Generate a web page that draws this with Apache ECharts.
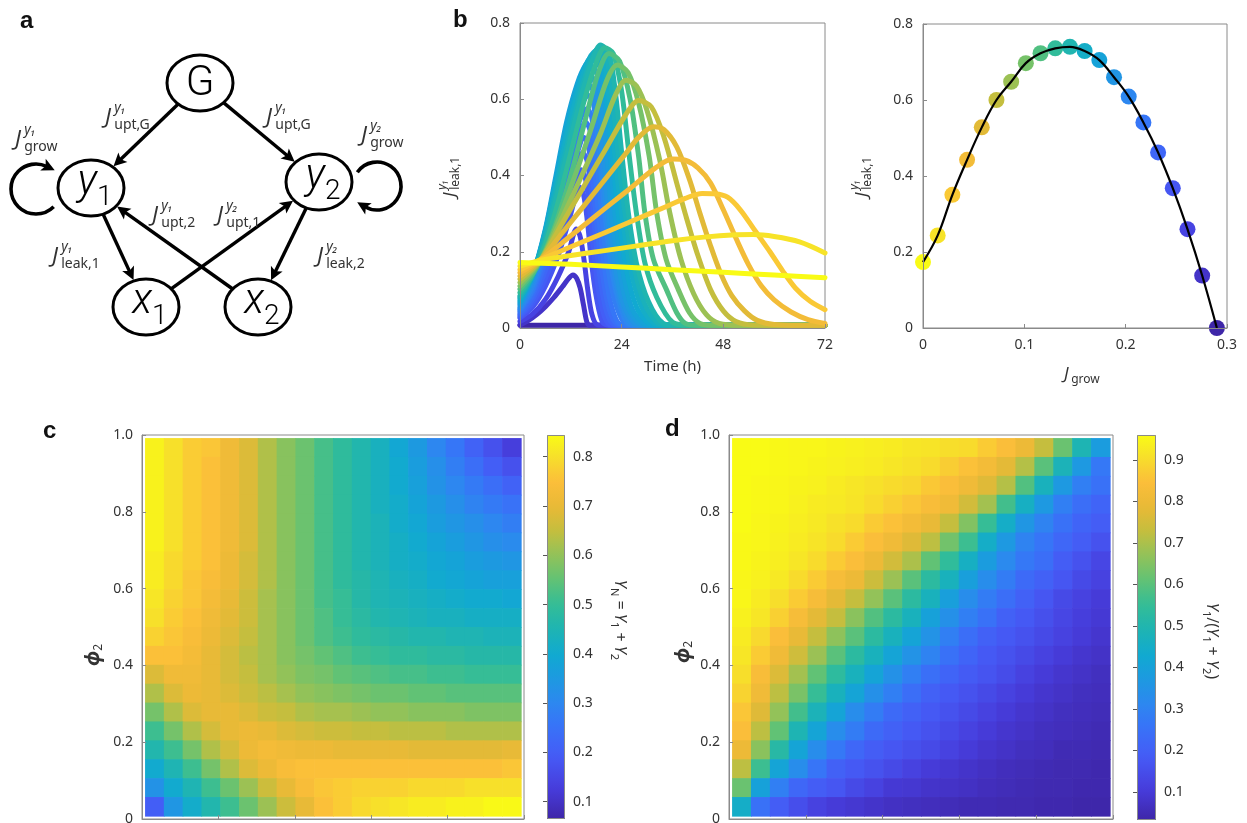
<!DOCTYPE html>
<html><head><meta charset="utf-8">
<script src="https://cdn.jsdelivr.net/npm/echarts@6/dist/echarts.min.js"></script>
<style>html,body{margin:0;padding:0;background:#fff}#c{width:1247px;height:823px}</style>
</head><body><div id="c"></div><script>
// ---------------- DATA ----------------
// panel b: growth parameter of each curve / point, and peak leak flux (right plot)
const growRate = [0,0.0145,0.029,0.0435,0.058,0.0725,0.087,0.1015,0.116,0.1305,0.145,0.1595,0.174,0.1885,0.203,0.2175,0.232,0.2465,0.261,0.2755,0.29];
const leakMax  = [0.1735,0.2436,0.3505,0.4425,0.528,0.600,0.648,0.697,0.723,0.736,0.740,0.729,0.705,0.660,0.609,0.541,0.462,0.368,0.260,0.138,0];
const timeTicks = [0,24,48,72];
// panel b left: leak flux over time (h) for each growth parameter (index matches growRate)
const leakCurves = [
[[0,.172],[12,.167],[24,.160],[36,.153],[48,.146],[60,.139],[72,.132]],
[[0,.162],[5,.178],[12,.19],[20,.203],[28,.216],[36,.229],[44,.239],[50,.244],[55,.245],[60,.24],[66,.226],[72,.197]],
[[0,.153],[5,.18],[12,.213],[20,.25],[28,.288],[34,.316],[39,.34],[43,.353],[46,.352],[49,.343],[52,.31],[55.5,.255],[59,.2],[62,.15],[65,.105],[68.5,.07],[72,.048]],
[[0,.145],[5,.18],[12,.242],[20,.313],[26,.366],[32,.42],[36,.443],[39,.44],[42,.42],[45,.38],[48,.31],[51,.235],[54,.165],[57,.11],[60,.074],[64,.042],[68,.022],[72,.012]],
[[0,.136],[5,.18],[10,.25],[15,.319],[20,.389],[25,.458],[28,.5],[31.5,.528],[34,.52],[37,.475],[40,.39],[42.5,.3],[45,.215],[47.5,.14],[50,.085],[53,.045],[56,.02],[60,.009],[66,.007],[72,.007]],
[[0,.128],[5,.18],[10,.275],[15,.37],[20,.465],[25,.56],[28,.597],[31,.58],[34,.5],[37,.38],[39,.3],[42,.19],[45,.1],[48,.045],[51,.017],[55,.008],[72,.007]],
[[0,.119],[5,.18],[10,.29],[15,.41],[19,.51],[22.5,.61],[25,.65],[27.5,.635],[30,.57],[33,.44],[35.4,.3],[38,.18],[41,.09],[44,.035],[47,.012],[52,.007],[72,.007]],
[[0,.11],[5,.18],[9,.28],[13,.4],[17,.53],[20.5,.65],[23,.69],[25.5,.67],[28,.59],[30.5,.45],[32.3,.3],[34.5,.18],[37.4,.1],[40,.04],[42.5,.012],[46,.007],[72,.007]],
[[0,.102],[4,.16],[8,.26],[12,.4],[15.5,.55],[18.5,.67],[21,.72],[23.5,.70],[26,.6],[28,.45],[29.5,.3],[31.5,.18],[34.6,.1],[37,.04],[39,.012],[42,.007],[72,.007]],
[[0,.093],[3,.14],[6,.22],[9,.33],[12,.46],[15,.59],[17.5,.68],[20,.735],[22,.72],[24,.62],[25.8,.45],[27.5,.3],[29.5,.17],[32.3,.08],[36,.015],[40,.007],[72,.007]],
[[0,.085],[3,.14],[6,.23],[9,.36],[12,.5],[15,.63],[17,.7],[19,.742],[21,.72],[22.5,.62],[24,.46],[25.6,.3],[27.5,.17],[30.3,.07],[33.8,.012],[37,.007],[72,.007]],
[[0,.077],[3,.14],[6,.25],[9,.4],[12,.55],[14.5,.65],[16.5,.71],[18.3,.73],[19.8,.70],[21.2,.58],[22.5,.44],[24,.3],[26,.16],[28.5,.06],[31.5,.012],[34,.007],[72,.007]],
[[0,.068],[3,.14],[6,.26],[8.5,.4],[11,.54],[13.5,.64],[15.5,.69],[17.3,.705],[19,.68],[20.3,.57],[21.4,.44],[22.4,.3],[24.3,.15],[26.5,.05],[29.5,.01],[32,.007],[72,.007]],
[[0,.06],[3,.13],[6,.25],[8.5,.38],[11,.51],[13.5,.6],[15.5,.65],[16.8,.66],[17.8,.64],[19,.54],[20,.42],[20.9,.3],[22.5,.16],[24.5,.06],[27.5,.01],[30,.007],[72,.007]],
[[0,.051],[3,.11],[6,.22],[8.5,.34],[11,.46],[13.5,.56],[16.2,.61],[17.3,.59],[18.3,.5],[19.3,.38],[20,.3],[21.5,.16],[23.5,.06],[25.6,.01],[28,.007],[72,.007]],
[[0,.043],[3,.095],[6,.19],[9,.31],[11.5,.41],[13.5,.49],[15.5,.54],[16.5,.52],[17.5,.43],[18.5,.3],[19.8,.17],[21.3,.07],[23.5,.01],[26,.007],[72,.007]],
[[0,.034],[3,.075],[6,.15],[9,.25],[11.5,.35],[13.3,.42],[14.8,.46],[15.8,.44],[16.8,.36],[17.8,.24],[19,.12],[20.5,.04],[22,.01],[24,.007],[72,.007]],
[[0,.026],[3,.055],[6,.11],[9,.19],[11.5,.28],[13,.34],[14,.37],[15,.35],[16,.27],[17,.16],[18.2,.07],[19.5,.015],[21,.007],[72,.007]],
[[0,.017],[3,.037],[6,.075],[9,.135],[11.5,.2],[13.3,.26],[14.2,.24],[15.1,.18],[16,.1],[17,.035],[18.3,.008],[20,.007],[72,.007]],
[[0,.008],[2,.02],[4,.036],[6,.056],[8,.08],[10,.108],[11.5,.13],[12.5,.139],[13.4,.13],[14.2,.105],[15,.06],[15.8,.015],[16.5,.007],[72,.007]],
[[0,.007],[72,.007]]
];
// panel b left: further curves read inside the dense blue-cyan fan
const fanGrow = [0.15225,0.16675,0.18125,0.19575,0.21025,0.22475,0.23925];
const fanCurves = [
[[0,.081],[3,.14],[6,.24],[9,.38],[12,.52],[14.8,.64],[16.8,.705],[18.6,.736],[20.4,.71],[21.8,.6],[23.2,.45],[24.8,.3],[26.8,.165],[29.4,.065],[32.6,.012],[35,.007],[72,.007]],
[[0,.072],[3,.14],[6,.255],[8.8,.4],[11.5,.545],[14,.645],[16,.7],[17.8,.718],[19.4,.69],[20.7,.575],[21.9,.44],[23.2,.3],[25.1,.155],[27.5,.055],[30.5,.011],[33,.007],[72,.007]],
[[0,.064],[3,.135],[6,.255],[8.5,.39],[11,.525],[13.5,.62],[15.5,.67],[17,.683],[18.4,.66],[19.6,.555],[20.7,.43],[21.6,.3],[23.4,.155],[25.5,.055],[28.5,.01],[31,.007],[72,.007]],
[[0,.055],[3,.12],[6,.235],[8.5,.36],[11,.485],[13.5,.58],[15.5,.625],[16.5,.635],[17.5,.615],[18.6,.52],[19.6,.4],[20.4,.3],[22,.16],[24,.06],[26.5,.01],[29,.007],[72,.007]],
[[0,.047],[3,.1],[6,.205],[8.8,.325],[11.2,.435],[13.5,.525],[15.8,.575],[16.9,.555],[17.9,.465],[18.9,.34],[19.9,.23],[21.4,.115],[23.5,.035],[25.5,.007],[72,.007]],
[[0,.038],[3,.085],[6,.17],[9,.28],[11.5,.38],[13.4,.455],[15.1,.50],[16.1,.48],[17.1,.395],[18.1,.27],[19.4,.145],[20.9,.055],[22.8,.01],[25,.007],[72,.007]],
[[0,.03],[3,.065],[6,.13],[9,.22],[11.5,.315],[13.2,.38],[14.4,.415],[15.4,.395],[16.4,.315],[17.4,.2],[18.6,.095],[20,.028],[21.5,.007],[72,.007]]
];
// panel c: Y_N over (phi1 = x, phi2 = y); rows top (phi2 ~ 1) to bottom (phi2 ~ 0)
const heatC = [
[.83,.80,.77,.76,.72,.68,.63,.59,.56,.52,.49,.46,.43,.39,.35,.30,.26,.21,.17,.13],
[.83,.80,.77,.75,.72,.68,.63,.59,.56,.52,.49,.46,.43,.40,.36,.32,.28,.24,.20,.17],
[.83,.80,.77,.75,.72,.68,.63,.59,.56,.52,.49,.46,.43,.40,.37,.33,.30,.27,.24,.21],
[.83,.80,.77,.75,.72,.68,.63,.59,.56,.52,.49,.46,.43,.41,.38,.35,.32,.29,.27,.25],
[.83,.80,.77,.75,.72,.68,.63,.59,.56,.52,.49,.46,.44,.41,.39,.36,.34,.32,.30,.28],
[.83,.80,.77,.75,.72,.68,.63,.59,.56,.52,.49,.46,.44,.42,.40,.38,.36,.34,.32,.31],
[.82,.79,.77,.75,.71,.67,.63,.59,.56,.52,.49,.46,.44,.42,.41,.39,.38,.36,.35,.34],
[.82,.79,.76,.74,.71,.67,.63,.59,.56,.52,.49,.47,.45,.43,.42,.40,.39,.38,.37,.37],
[.81,.78,.76,.73,.70,.66,.62,.59,.56,.52,.50,.47,.45,.44,.43,.42,.41,.40,.40,.39],
[.80,.77,.75,.72,.69,.66,.62,.59,.56,.53,.50,.48,.46,.45,.44,.43,.43,.42,.42,.42],
[.78,.76,.74,.71,.68,.65,.62,.59,.56,.53,.51,.49,.48,.47,.46,.46,.45,.45,.44,.44],
[.75,.75,.73,.70,.67,.64,.62,.59,.57,.55,.53,.51,.50,.49,.49,.48,.48,.47,.47,.47],
[.68,.72,.72,.70,.67,.65,.62,.60,.58,.57,.55,.54,.53,.52,.52,.51,.51,.50,.50,.50],
[.63,.68,.71,.70,.68,.66,.64,.62,.60,.59,.58,.57,.56,.56,.55,.55,.54,.54,.54,.54],
[.57,.63,.68,.70,.70,.68,.66,.65,.63,.62,.62,.61,.60,.60,.59,.59,.59,.58,.58,.58],
[.51,.57,.63,.67,.70,.71,.70,.68,.67,.66,.66,.65,.65,.64,.64,.64,.63,.63,.63,.63],
[.46,.51,.57,.63,.67,.71,.73,.72,.71,.71,.70,.70,.70,.70,.69,.69,.69,.69,.69,.70],
[.40,.45,.51,.57,.63,.68,.71,.74,.75,.75,.75,.75,.75,.75,.75,.75,.75,.75,.75,.76],
[.33,.40,.45,.51,.56,.61,.66,.70,.74,.76,.77,.78,.78,.78,.79,.79,.79,.80,.80,.80],
[.20,.34,.41,.46,.51,.56,.61,.66,.70,.75,.77,.79,.80,.81,.82,.82,.83,.83,.84,.84]
];
// panel d: Y1/(Y1+Y2); rows top to bottom
const heatD = [
[.96,.96,.955,.95,.95,.945,.94,.935,.93,.92,.915,.905,.90,.87,.84,.80,.73,.62,.49,.38],
[.96,.96,.955,.95,.945,.94,.935,.93,.92,.91,.90,.875,.85,.82,.78,.71,.60,.48,.37,.27],
[.96,.955,.95,.945,.94,.93,.92,.91,.90,.89,.865,.84,.81,.77,.71,.59,.47,.37,.29,.25],
[.96,.955,.95,.94,.93,.925,.915,.90,.88,.86,.835,.81,.75,.69,.57,.46,.37,.29,.24,.21],
[.96,.95,.945,.935,.925,.91,.90,.87,.85,.82,.79,.73,.65,.55,.45,.36,.30,.25,.21,.19],
[.955,.95,.94,.93,.915,.90,.87,.84,.81,.77,.72,.63,.56,.45,.37,.30,.26,.22,.19,.16],
[.955,.945,.935,.92,.90,.87,.84,.80,.75,.70,.61,.54,.46,.38,.32,.27,.24,.19,.16,.13],
[.95,.94,.925,.90,.87,.83,.80,.74,.68,.60,.53,.47,.39,.33,.28,.23,.20,.17,.14,.12],
[.95,.93,.905,.87,.83,.78,.73,.67,.60,.53,.47,.39,.33,.28,.24,.20,.17,.14,.12,.10],
[.94,.92,.88,.83,.78,.73,.66,.59,.53,.47,.40,.34,.29,.25,.20,.18,.155,.13,.11,.095],
[.93,.895,.84,.79,.73,.665,.60,.53,.47,.41,.35,.29,.24,.20,.18,.16,.14,.12,.10,.085],
[.92,.87,.81,.745,.68,.60,.53,.47,.41,.35,.30,.25,.21,.18,.16,.14,.12,.10,.085,.075],
[.905,.835,.765,.69,.61,.535,.47,.41,.345,.29,.245,.21,.185,.165,.145,.12,.10,.085,.075,.065],
[.885,.81,.72,.64,.55,.47,.41,.34,.29,.24,.20,.18,.16,.14,.12,.10,.085,.075,.065,.06],
[.86,.77,.67,.57,.48,.41,.33,.28,.23,.20,.18,.16,.14,.12,.10,.085,.075,.065,.06,.055],
[.84,.72,.61,.49,.41,.33,.28,.23,.20,.18,.16,.14,.12,.10,.085,.075,.065,.06,.055,.05],
[.80,.66,.52,.41,.33,.27,.22,.19,.17,.155,.14,.12,.10,.085,.075,.065,.06,.05,.05,.045],
[.72,.56,.41,.33,.26,.20,.18,.16,.14,.12,.10,.09,.08,.07,.06,.055,.05,.045,.045,.04],
[.62,.40,.29,.22,.19,.17,.14,.12,.095,.09,.08,.075,.07,.06,.055,.05,.045,.045,.04,.04],
[.45,.25,.19,.15,.12,.10,.09,.08,.07,.065,.06,.055,.05,.05,.045,.045,.04,.04,.035,.035]
];
const colorRangeC = [0.065, 0.844];
const colorRangeD = [0.032, 0.96];
const cbarTicksC = [0.1,0.2,0.3,0.4,0.5,0.6,0.7,0.8];
const cbarTicksD = [0.1,0.2,0.3,0.4,0.5,0.6,0.7,0.8,0.9];
// panel a: schematic
const nodePos = {G:[200,83], y1:[91,188], y2:[319,182], x1:[146,307], x2:[258,307]};
const nodeRadius = [33,28];
const edges = [['G','y1'],['G','y2'],['y1','x1'],['y2','x2'],['x1','y2'],['x2','y1']];
const loops = [{c:[36,189], r:25, a0:45, a1:295}, {c:[377,186], r:24, a0:215, a1:480}];
const edgeLabels = [
  [105,118,'y₁','upt,G'],[266,118,'y₁','upt,G'],[15,140,'y₁','grow'],[361,136,'y₂','grow'],
  [152,216,'y₁','upt,2'],[217,216,'y₂','upt,1'],[52,257,'y₁','leak,1'],[317,257,'y₂','leak,2']
];

// ---------------- STYLE ----------------
const FONT = '"Noto Sans","DejaVu Sans",sans-serif';
const TXT = '#333', AX = '#8a8a8a';
const parulaStops = [
 [0.00,[62,38,168]],[0.08,[71,60,220]],[0.16,[70,90,245]],[0.24,[56,114,248]],[0.30,[45,135,240]],
 [0.36,[30,152,226]],[0.43,[16,170,208]],[0.50,[32,181,176]],[0.56,[52,189,150]],[0.62,[95,194,118]],
 [0.69,[148,194,88]],[0.75,[196,190,62]],[0.81,[232,185,54]],[0.88,[252,190,58]],[0.94,[246,222,44]],[1.00,[249,251,21]]
];
function parula(t){
  t = Math.max(0, Math.min(1, t));
  for (let i = 1; i < parulaStops.length; i++) {
    if (t <= parulaStops[i][0]) {
      const [t0,c0] = parulaStops[i-1], [t1,c1] = parulaStops[i];
      const f = (t - t0) / (t1 - t0);
      return 'rgb(' + c0.map((v,j) => Math.round(v + (c1[j]-v)*f)).join(',') + ')';
    }
  }
  return 'rgb(249,251,21)';
}
const palette = Array.from({length:41}, (_,i) => parula(i/40));
const gMax = growRate[growRate.length-1];
const growColor = g => parula(1 - g/gMax);

// ---------------- HELPERS ----------------
function cellsOf(rows){
  const R = rows.length, C = rows[0].length, inset = 0.008, step = (1-2*inset)/C;
  const out = [];
  rows.forEach((row,j) => row.forEach((v,i) => out.push([inset+(i+0.5)*step, inset+(R-1-j+0.5)*step, v])));
  return {data: out, step};
}
const cellsC = cellsOf(heatC), cellsD = cellsOf(heatD);
function heatRender(step){
  return function(params, api){
    const c = api.coord([api.value(0), api.value(1)]);
    const s = api.size([step, step]);
    return {type:'rect', shape:{x:c[0]-s[0]/2, y:c[1]-s[1]/2, width:s[0]+0.7, height:s[1]+0.7},
            style:{fill: api.visual('color')}};
  };
}
function barRender(range){
  return function(params, api){
    const p0 = api.coord([0, range[0]]), p1 = api.coord([1, range[1]]);
    const grad = new echarts.graphic.LinearGradient(0,1,0,0, palette.map((c,i)=>({offset:i/(palette.length-1), color:c})));
    return {type:'group', children:[
      {type:'rect', shape:{x:p0[0], y:p1[1], width:p1[0]-p0[0], height:p0[1]-p1[1]}, style:{fill:grad}},
      {type:'rect', shape:{x:p0[0]+0.5, y:p1[1]+0.5, width:p1[0]-p0[0]-1, height:p0[1]-p1[1]-1}, style:{fill:'none', stroke:AX, lineWidth:1}}
    ]};
  };
}
function tstyle(o){
  const s = Object.assign({fill:TXT, fontFamily:FONT}, o);
  if (s.align) s.textAlign = s.align;
  if (s.verticalAlign) s.textVerticalAlign = s.verticalAlign;
  return s;
}
function jParts(sup, sub, fs, ss){
  const kids = [{type:'text', x:0, y:0, style:tstyle({text:'J', fontSize:fs, fontStyle:'italic', align:'left', verticalAlign:'middle'})}];
  if (sup) kids.push({type:'text', x:fs*0.42, y:-fs*0.44, style:tstyle({text:sup, fontSize:ss, fontStyle:'italic', align:'left', verticalAlign:'middle'})});
  if (sub) kids.push({type:'text', x:fs*0.42, y:fs*0.30, style:tstyle({text:sub, fontSize:ss, align:'left', verticalAlign:'middle'})});
  return kids;
}
function diagramRender(params, api){
  const kids = [];
  const P = p => api.coord(p);
  const [RX, RY] = nodeRadius;
  const bound = (c, d, extra) => { const s = 1/Math.sqrt((d[0]/RX)**2 + (d[1]/RY)**2); return [c[0]+d[0]*(s+extra), c[1]+d[1]*(s+extra)]; };
  const head = (tip, d) => { const L=13, W=6.5, n=[-d[1], d[0]]; const b=[tip[0]-d[0]*L, tip[1]-d[1]*L];
    return {type:'polygon', shape:{points:[tip,[b[0]+n[0]*W,b[1]+n[1]*W],[b[0]+d[0]*3,b[1]+d[1]*3],[b[0]-n[0]*W,b[1]-n[1]*W]]}, style:{fill:'#000'}}; };
  edges.forEach(([a,b]) => {
    const A = nodePos[a], B = nodePos[b];
    let d = [B[0]-A[0], B[1]-A[1]]; const len = Math.hypot(d[0], d[1]); d = [d[0]/len, d[1]/len];
    const ps = P(bound(A, d, 0)), pe = P(bound(B, [-d[0],-d[1]], 1));
    kids.push({type:'line', shape:{x1:ps[0], y1:ps[1], x2:pe[0]-d[0]*9, y2:pe[1]-d[1]*9}, style:{stroke:'#000', lineWidth:3.4}});
    kids.push(head(pe, d));
  });
  loops.forEach(lp => {
    const c = P(lp.c), r = api.size([lp.r, 0])[0];
    const a0 = lp.a0*Math.PI/180, a1 = lp.a1*Math.PI/180;
    kids.push({type:'arc', shape:{cx:c[0], cy:c[1], r, startAngle:a0, endAngle:a1, clockwise:true}, style:{stroke:'#000', lineWidth:3.6, fill:'none'}});
    const e = [c[0]+r*Math.cos(a1), c[1]+r*Math.sin(a1)], t = [-Math.sin(a1), Math.cos(a1)];
    kids.push(head([e[0]+t[0]*9, e[1]+t[1]*9], t));
  });
  Object.keys(nodePos).forEach(k => {
    const c = P(nodePos[k]);
    kids.push({type:'ellipse', shape:{cx:c[0], cy:c[1], rx:RX, ry:RY}, style:{fill:'#fff', stroke:'#000', lineWidth:3}});
    if (k === 'G') {
      kids.push({type:'text', x:c[0], y:c[1]+1, style:tstyle({text:'G', fontSize:42, fontWeight:300, fontFamily:'Roboto', fill:'#000', align:'center', verticalAlign:'middle'})});
    } else {
      kids.push({type:'text', x:c[0]+6, y:c[1]-5, style:tstyle({text:k[0], fontSize:42, fontStyle:'italic', fontWeight:300, fontFamily:'Roboto', fill:'#000', align:'right', verticalAlign:'middle'})});
      kids.push({type:'text', x:c[0]+6, y:c[1]+10, style:tstyle({text:k[1], fontSize:28, fontWeight:300, fontFamily:'Roboto', fill:'#000', align:'left', verticalAlign:'middle'})});
    }
  });
  edgeLabels.forEach(([x,y,sup,sub]) => {
    const c = P([x,y]);
    kids.push({type:'group', x:c[0], y:c[1], children: jParts(sup, sub, 22, 14)});
  });
  return {type:'group', children:kids};
}

// ---------------- AXES ----------------
const fmt = v => v === 0 ? '0' : (Math.round(v*10)/10).toFixed(1);
function vAxis(grid, min, max, interval, extra){
  return Object.assign({gridIndex:grid, type:'value', min, max, interval,
    axisLine:{show:true, onZero:false, lineStyle:{color:AX}},
    axisTick:{show:true, inside:true, length:4, lineStyle:{color:AX}},
    axisLabel:{color:TXT, fontSize:14, fontFamily:FONT, margin:10, formatter:fmt},
    splitLine:{show:false}, z:5}, extra||{});
}
const hidden = (g, min, max, inv) => ({gridIndex:g, type:'value', min, max, show:false, inverse:!!inv});
const gridBox = (left, top, width, height, show) => ({left, top, width, height, show:!!show, borderColor:AX, borderWidth:1, backgroundColor:'transparent', outerBoundsMode:'none', containLabel:false});

// ---------------- SERIES ----------------
const series = [];
series.push({type:'custom', xAxisIndex:0, yAxisIndex:0, data:[[0,0]], renderItem:diagramRender, silent:true, clip:false});
const allCurves = leakCurves.map((d,k)=>({g:growRate[k], d})).concat(fanCurves.map((d,k)=>({g:fanGrow[k], d})));
allCurves.sort((a,b)=>b.g-a.g);
allCurves.forEach(c => {
  series.push({type:'line', xAxisIndex:1, yAxisIndex:1, data:c.d, smooth:0.3, showSymbol:false, silent:true,
    lineStyle:{width:5, color:growColor(c.g), cap:'round', join:'round'}});
});
series.push({type:'line', xAxisIndex:2, yAxisIndex:2, data:growRate.map((g,i)=>[g, leakMax[i]]), smooth:0.4, showSymbol:false, silent:true, lineStyle:{width:2.2, color:'#000'}, clip:false});
series.push({type:'scatter', xAxisIndex:2, yAxisIndex:2, data:growRate.map((g,i)=>[g, leakMax[i]]), symbolSize:16, silent:true, clip:false,
  itemStyle:{color: p => growColor(growRate[p.dataIndex]), opacity:1}});
const idxC = series.length;
series.push({type:'custom', xAxisIndex:3, yAxisIndex:3, data:cellsC.data, renderItem:heatRender(cellsC.step), silent:true});
series.push({type:'custom', xAxisIndex:4, yAxisIndex:4, data:[[0.5, colorRangeC[0]]], renderItem:barRender(colorRangeC), silent:true});
const idxD = series.length;
series.push({type:'custom', xAxisIndex:5, yAxisIndex:5, data:cellsD.data, renderItem:heatRender(cellsD.step), silent:true});
series.push({type:'custom', xAxisIndex:6, yAxisIndex:6, data:[[0.5, colorRangeD[0]]], renderItem:barRender(colorRangeD), silent:true});

function barAxis(g, range, ticks){
  return {gridIndex:g, type:'value', min:range[0], max:range[1], position:'right', z:6,
    axisLine:{show:false}, splitLine:{show:false},
    axisTick:{show:true, inside:true, length:4, lineStyle:{color:'#555'}, customValues:ticks},
    axisLabel:{color:TXT, fontSize:14, fontFamily:FONT, margin:8, customValues:ticks, formatter:v=>v.toFixed(1)}};
}

// ---------------- GRAPHIC TEXT ----------------
const panelLetter = (t, x, y) => ({type:'text', x, y, style:tstyle({text:t, fontSize:24, fontWeight:'bold', fontFamily:'"Liberation Sans",Arial,sans-serif', fill:'#111', align:'left', verticalAlign:'middle'})});
const richY = {v:{fontSize:16, fontStyle:'italic', fontFamily:FONT, lineHeight:22, fill:TXT}, s:{fontSize:11, fontFamily:FONT, lineHeight:11, verticalAlign:'bottom', fill:TXT}, t:{fontSize:16, fontFamily:FONT, lineHeight:22, fill:TXT}};
const phiLabel = (x, y) => ({type:'text', x, y, rotation:Math.PI/2, style:tstyle({text:'{p|ϕ}{s|2}', align:'center', verticalAlign:'middle',
  rich:{p:{fontSize:20, fontStyle:'italic', fontWeight:'bold', fontFamily:FONT, lineHeight:24, fill:TXT}, s:{fontSize:12, fontFamily:FONT, lineHeight:12, verticalAlign:'bottom', fill:TXT}}})});
const graphics = [
  panelLetter('a', 20, 21), panelLetter('b', 453, 20), panelLetter('c', 43, 431), panelLetter('d', 665, 429),
  {type:'group', x:450, y:197, rotation:Math.PI/2, children:jParts('y₁','leak,1',17,12)},
  {type:'group', x:862, y:197, rotation:Math.PI/2, children:jParts('y₁','leak,1',17,12)},
  {type:'group', x:1064, y:374, children:jParts(null,'grow',17,12)},
  phiLabel(93, 655), phiLabel(683, 652),
  {type:'text', x:620, y:620, rotation:-Math.PI/2, style:tstyle({text:'{v|Y}{s|N}{t| = }{v|Y}{s|1}{t| + }{v|Y}{s|2}', align:'center', verticalAlign:'middle', rich:richY})},
  {type:'text', x:1212, y:641, rotation:-Math.PI/2, style:tstyle({text:'{v|Y}{s|1}{t|/(}{v|Y}{s|1}{t| + }{v|Y}{s|2}{t|)}', align:'center', verticalAlign:'middle', rich:richY})}
];

const option = {
  animation:false,
  backgroundColor:'#fff',
  grid:[gridBox(0,0,420,340,false), gridBox(520,23,305,305,true), gridBox(923,24,304,304,true),
        gridBox(142,435,382,384,true), gridBox(547,435,18,384,false), gridBox(729,435,384,384,true), gridBox(1137,435,19,385,false)],
  xAxis:[hidden(0,0,420),
    vAxis(1,timeTicks[0],timeTicks[timeTicks.length-1],timeTicks[1]-timeTicks[0],{name:'Time (h)', nameLocation:'middle', nameGap:31, nameTextStyle:{color:TXT, fontSize:15, fontFamily:FONT},
      axisLabel:{color:TXT, fontSize:14, fontFamily:FONT, margin:10, formatter:v=>String(Math.round(v))}}),
    vAxis(2,0,0.3,0.1), vAxis(3,0,1,0.2), hidden(4,0,1), vAxis(5,0,1,0.2), hidden(6,0,1)],
  yAxis:[hidden(0,0,340,true), vAxis(1,0,0.8,0.2), vAxis(2,0,0.8,0.2), vAxis(3,0,1,0.2,{axisLabel:{color:TXT,fontSize:14,fontFamily:FONT,margin:9,formatter:fmt}}),
    barAxis(4,colorRangeC,cbarTicksC), vAxis(5,0,1,0.2,{axisLabel:{color:TXT,fontSize:14,fontFamily:FONT,margin:9,formatter:fmt}}), barAxis(6,colorRangeD,cbarTicksD)],
  visualMap:[
    {type:'continuous', show:false, seriesIndex:idxC, dimension:2, min:colorRangeC[0], max:colorRangeC[1], inRange:{color:palette}},
    {type:'continuous', show:false, seriesIndex:idxD, dimension:2, min:colorRangeD[0], max:colorRangeD[1], inRange:{color:palette}}
  ],
  graphic:{elements:graphics},
  series
};
const chart = echarts.init(document.getElementById('c'), null, {renderer:'canvas', width:1247, height:823});
chart.setOption(option);
</script></body></html>
